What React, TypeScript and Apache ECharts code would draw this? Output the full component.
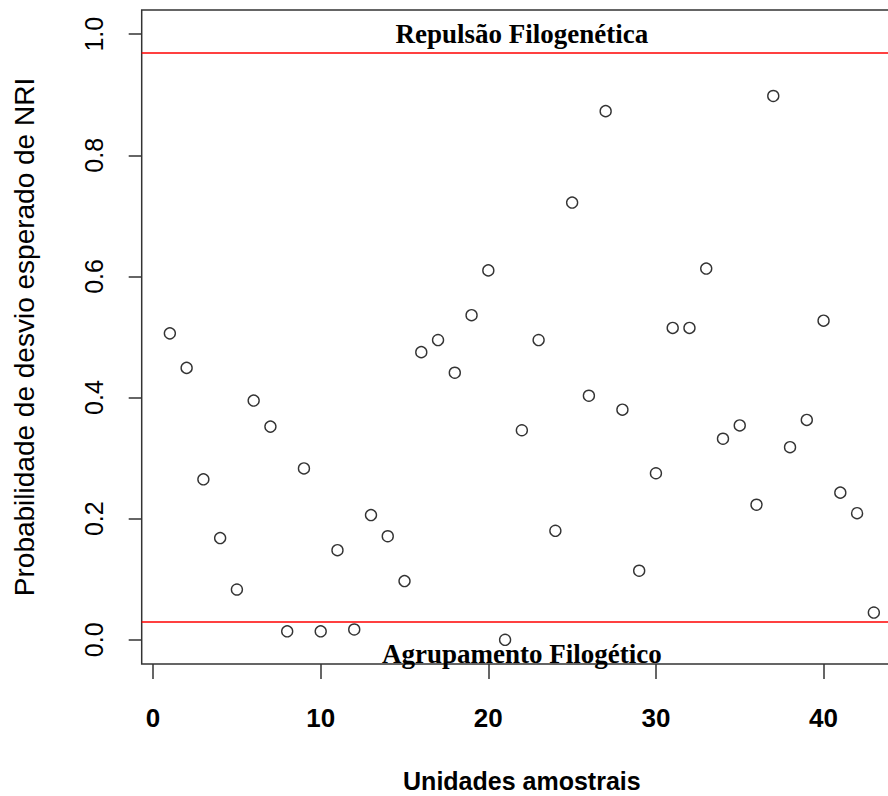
import React, { useEffect, useRef } from "react";
import * as echarts from "echarts";

const unidades = [
  1, 2, 3, 4, 5, 6, 7, 8, 9, 10, 11, 12, 13, 14, 15, 16, 17, 18, 19, 20, 21,
  22, 23, 24, 25, 26, 27, 28, 29, 30, 31, 32, 33, 34, 35, 36, 37, 38, 39, 40,
  41, 42, 43,
];
const probabilidade = [
  0.506, 0.449, 0.265, 0.168, 0.083, 0.395, 0.352, 0.014, 0.283, 0.014,
  0.148, 0.017, 0.206, 0.171, 0.097, 0.475, 0.495, 0.441, 0.536, 0.61,
  0.0, 0.346, 0.495, 0.18, 0.722, 0.403, 0.873, 0.38, 0.114, 0.275,
  0.515, 0.515, 0.613, 0.332, 0.354, 0.223, 0.898, 0.318, 0.363, 0.527,
  0.243, 0.209, 0.045,
];
const xTicks = [0, 10, 20, 30, 40];
const yTicks = [0, 0.2, 0.4, 0.6, 0.8, 1.0];
const limiteSuperior = 0.975;
const limiteInferior = 0.025;
const rotuloSuperior = "Repulsão Filogenética";
const rotuloInferior = "Agrupamento Filogético";
const tituloX = "Unidades amostrais";
const tituloY = "Probabilidade de desvio esperado de NRI";

export default function App() {
  const ref = useRef<HTMLDivElement>(null);
  useEffect(() => {
    const chart = echarts.init(ref.current!, null, { renderer: "svg" });
    const sans = "'Liberation Sans', Arial, sans-serif";
    const serif = "'Liberation Serif', 'Times New Roman', serif";
    chart.setOption({
      animation: false,
      backgroundColor: "#ffffff",
      grid: {
        left: 141.7,
        top: 10,
        width: 760.3,
        height: 654,
        outerBoundsMode: "none",
        containLabel: false,
        show: true,
        borderColor: "#333",
        borderWidth: 1.5,
        backgroundColor: "transparent",
      },
      xAxis: {
        type: "value",
        min: -0.68,
        max: 44.68,
        axisLine: { show: false, onZero: false },
        splitLine: { show: false },
        axisTick: {
          show: true,
          length: 15,
          customValues: xTicks,
          lineStyle: { color: "#333", width: 1.5 },
        },
        axisLabel: {
          customValues: xTicks,
          margin: 41,
          fontSize: 26,
          fontWeight: "bold",
          fontFamily: sans,
          color: "#000",
        },
        name: tituloX,
        nameLocation: "middle",
        nameGap: 104,
        nameMoveOverlap: false,
        nameTextStyle: {
          fontSize: 25,
          fontWeight: "bold",
          fontFamily: sans,
          color: "#000",
        },
      },
      yAxis: {
        type: "value",
        min: -0.04,
        max: 1.04,
        axisLine: { show: false, onZero: false },
        splitLine: { show: false },
        axisTick: {
          show: true,
          length: 13,
          customValues: yTicks,
          lineStyle: { color: "#333", width: 1.5 },
        },
        axisLabel: {
          customValues: yTicks,
          rotate: 90,
          margin: 35,
          fontSize: 25,
          fontFamily: sans,
          color: "#000",
          formatter: (v: number) => v.toFixed(1),
        },
        name: tituloY,
        nameLocation: "middle",
        nameGap: 103,
        nameRotate: 90,
        nameMoveOverlap: false,
        nameTextStyle: {
          fontSize: 28,
          fontFamily: sans,
          color: "#000",
        },
      },
      series: [
        {
          type: "scatter",
          data: unidades.map((u, i) => [u, probabilidade[i]]),
          symbol: "circle",
          symbolSize: 11,
          itemStyle: {
            color: "rgba(0,0,0,0)",
            borderColor: "#000",
            borderWidth: 1.4,
          },
          emphasis: { disabled: true },
          markLine: {
            silent: true,
            symbol: "none",
            lineStyle: { color: "#ff0000", width: 1.5, type: "solid" },
            data: [
              {
                yAxis: limiteSuperior,
                label: {
                  show: true,
                  position: "insideMiddleTop",
                  distance: 5,
                  formatter: rotuloSuperior,
                  fontFamily: serif,
                  fontWeight: "bold",
                  fontSize: 27,
                  color: "#000",
                },
              },
              {
                yAxis: limiteInferior,
                label: {
                  show: true,
                  position: "insideMiddleBottom",
                  distance: 19,
                  formatter: rotuloInferior,
                  fontFamily: serif,
                  fontWeight: "bold",
                  fontSize: 27,
                  color: "#000",
                },
              },
            ],
          },
        },
      ],
    });
    return () => chart.dispose();
  }, []);
  return (
    <div
      ref={ref}
      style={{ position: "fixed", left: 0, top: 0, width: 888, height: 796 }}
    />
  );
}
